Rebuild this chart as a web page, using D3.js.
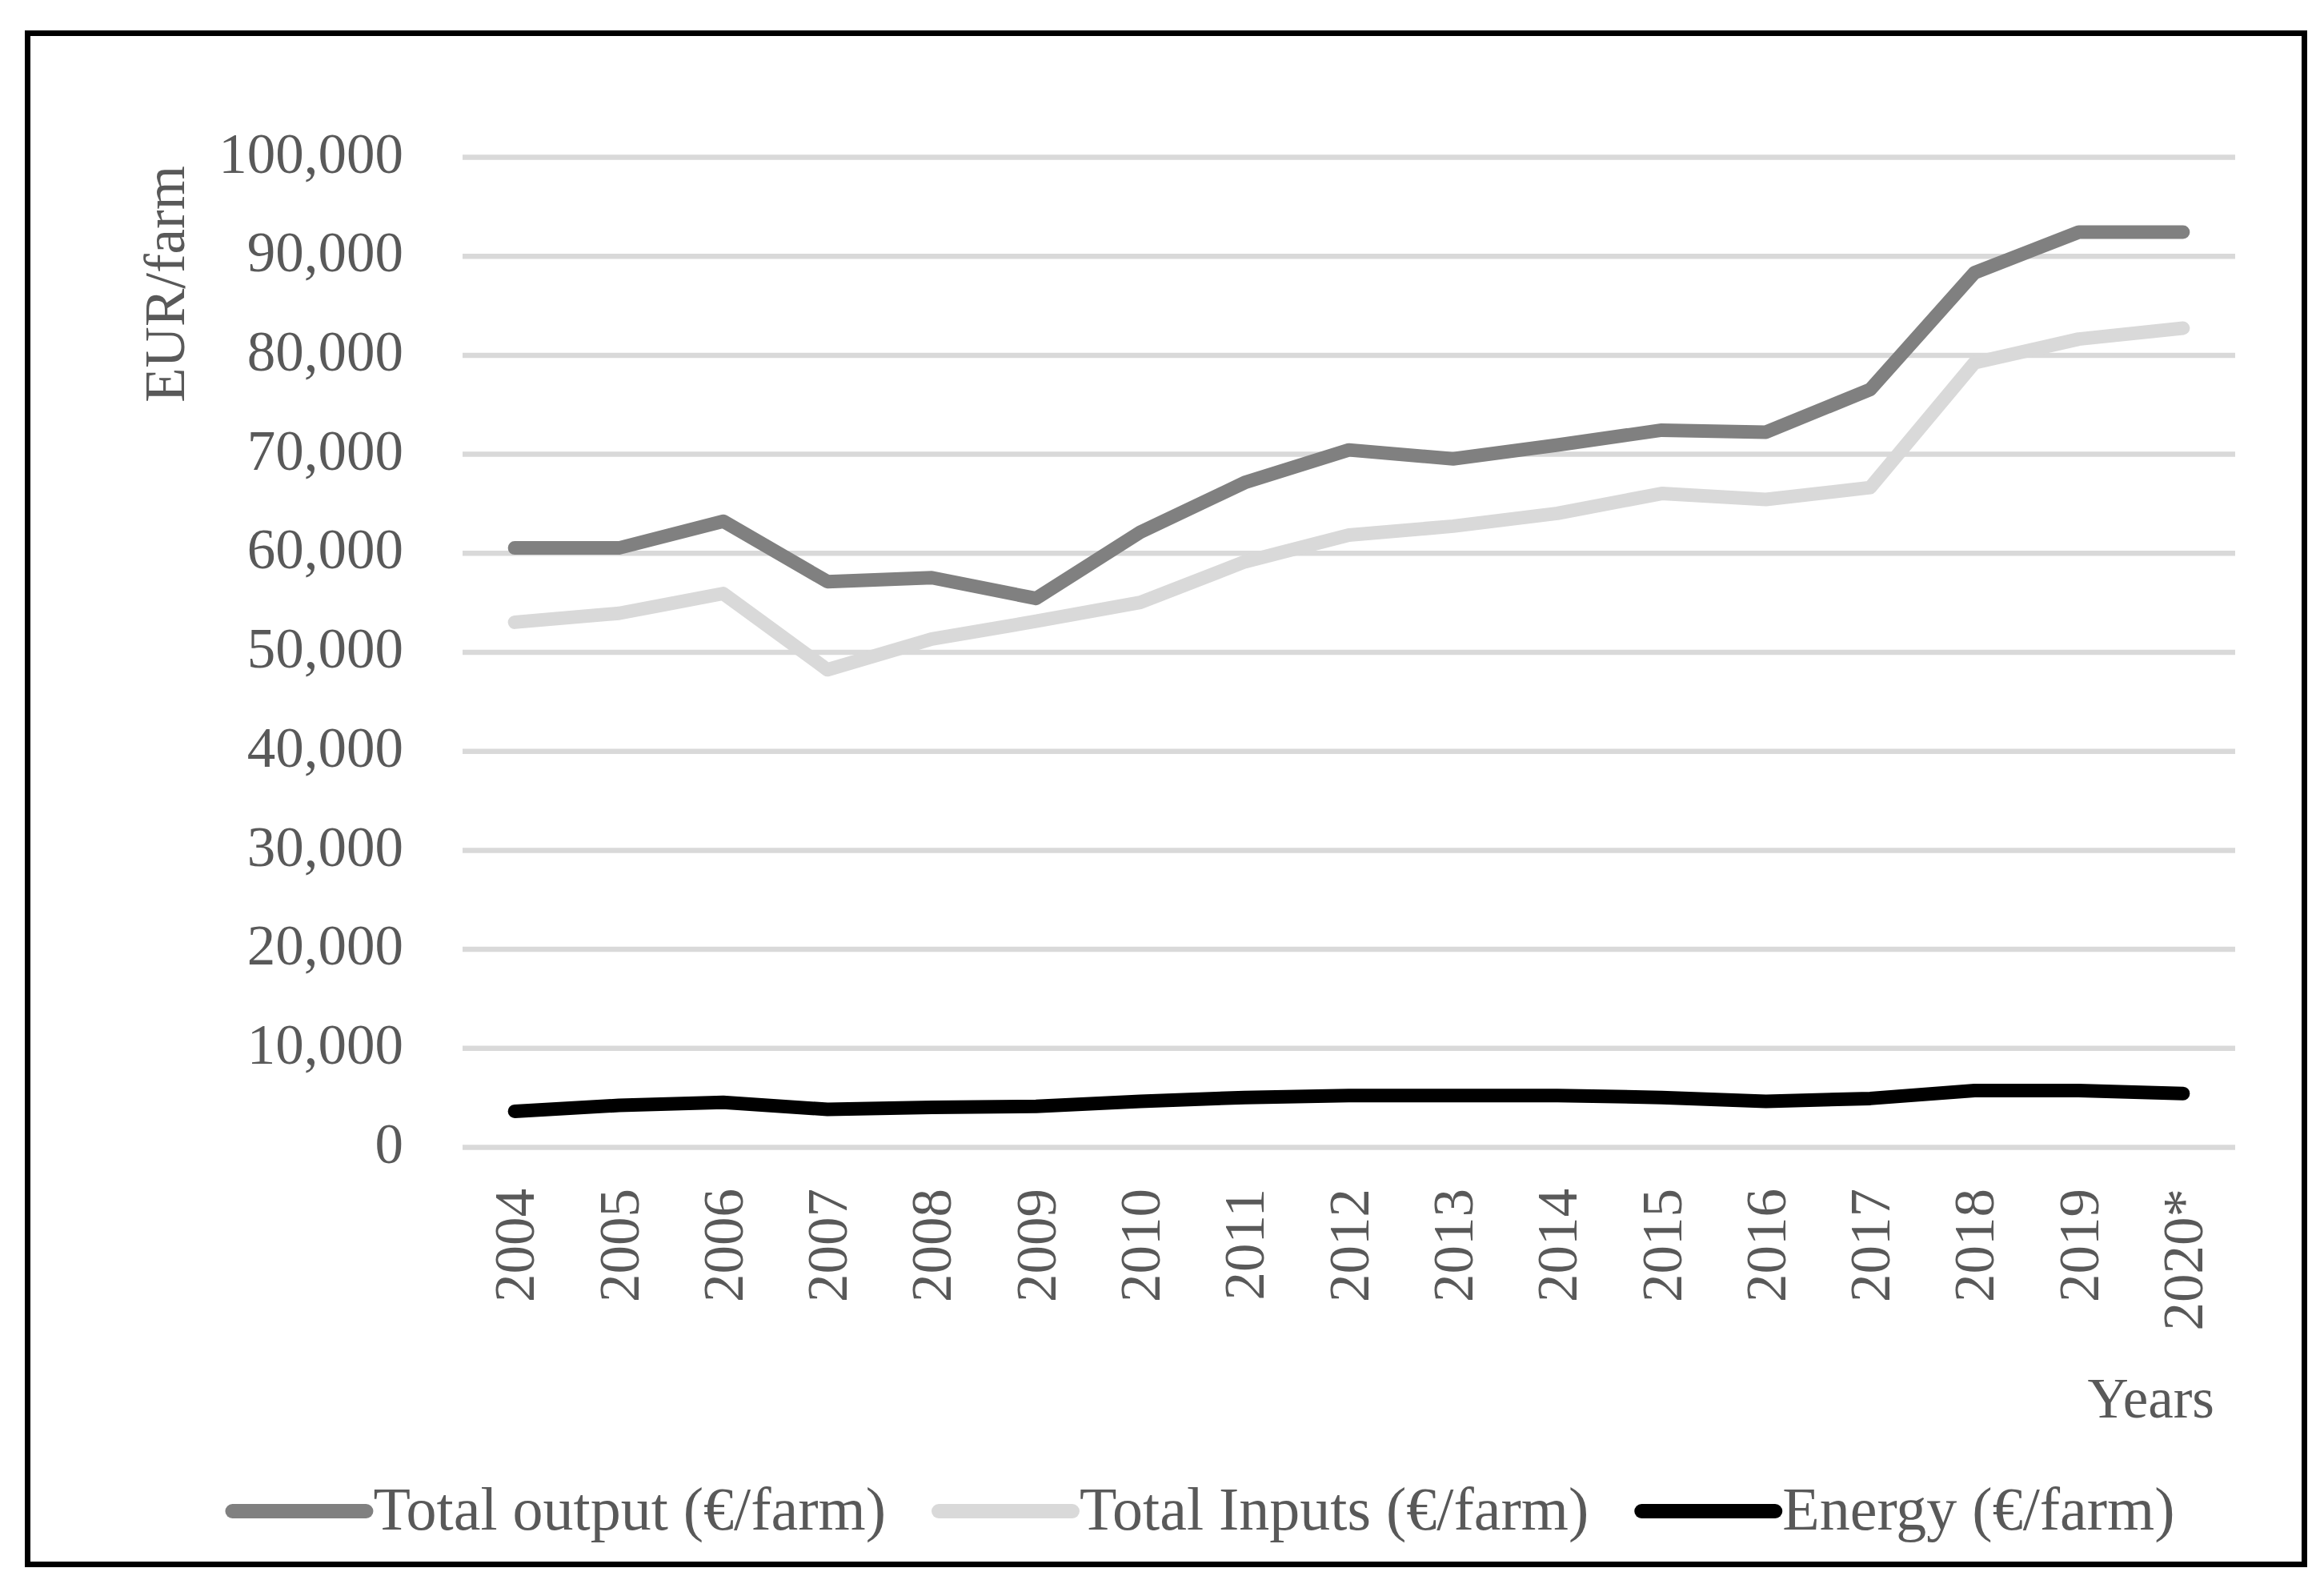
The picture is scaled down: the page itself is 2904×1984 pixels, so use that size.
<!DOCTYPE html>
<html lang="en">
<head>
<meta charset="UTF-8">
<title>EUR/farm by year</title>
<script src="https://cdn.jsdelivr.net/npm/d3@7"></script>
<style>
  html, body { margin: 0; padding: 0; background: #fff; }
  text { font-family: "Liberation Serif", "DejaVu Serif", serif; fill: #595959; }
</style>
</head>
<body>
<script>
// values (EUR per farm)
const years = ["2004", "2005", "2006", "2007", "2008", "2009", "2010", "2011", "2012",
               "2013", "2014", "2015", "2016", "2017", "2018", "2019", "2020*"];
const totalOutput = [60500, 60500, 63200, 57100, 57500, 55400, 62100, 67100, 70400,
                     69500, 70900, 72400, 72200, 76500, 88300, 92400, 92400];
const totalInputs = [53000, 53900, 55900, 48200, 51300, 53100, 55000, 59100, 61800,
                     62700, 64000, 66000, 65400, 66600, 79200, 81600, 82700];
const energy = [3600, 4200, 4500, 3800, 4000, 4100, 4600, 5000, 5200,
                5200, 5200, 5000, 4600, 4900, 5700, 5700, 5400];
const yTicks = [0, 10000, 20000, 30000, 40000, 50000, 60000, 70000, 80000, 90000, 100000];

const series = [
  { name: "Total output (€/farm)", values: totalOutput, color: "#808080" },
  { name: "Total Inputs (€/farm)", values: totalInputs, color: "#d9d9d9" },
  { name: "Energy (€/farm)", values: energy, color: "#000000" }
];

const width = 2904, height = 1984;
const fontSize = 71;
const plot = { left: 578, right: 2793, top: 196, bottom: 1433 };

const svg = d3.select("body").append("svg")
  .attr("width", width)
  .attr("height", height)
  .attr("viewBox", [0, 0, width, height]);

svg.append("rect")
  .attr("x", 34.5).attr("y", 41.5)
  .attr("width", 2845).attr("height", 1913)
  .attr("fill", "#fff")
  .attr("stroke", "#000")
  .attr("stroke-width", 7);

const x = d3.scaleBand().domain(years).range([plot.left, plot.right]);
const y = d3.scaleLinear().domain([0, 100000]).range([plot.bottom, plot.top]);
const cx = d => x(d) + x.bandwidth() / 2;

// y axis with gridlines
const yAxis = svg.append("g")
  .attr("transform", `translate(${plot.left},0)`)
  .call(d3.axisLeft(y)
    .tickValues(yTicks)
    .tickSize(-(plot.right - plot.left))
    .tickPadding(74)
    .tickFormat(d3.format(",")));
yAxis.select(".domain").remove();
yAxis.selectAll(".tick line").attr("stroke", "#d9d9d9").attr("stroke-width", 6.5);
yAxis.selectAll(".tick text")
  .attr("font-size", fontSize)
  .attr("dy", "0.27em")
  .style("font-family", "Liberation Serif")
  .attr("fill", "#595959");

// x axis, labels rotated
const xAxis = svg.append("g")
  .attr("transform", `translate(0,${plot.bottom})`)
  .call(d3.axisBottom(x).tickSize(0).tickPadding(0));
xAxis.select(".domain").remove();
xAxis.selectAll(".tick text")
  .attr("transform", "rotate(-90)")
  .attr("x", -52)
  .attr("y", 0)
  .attr("dy", "0.34em")
  .attr("text-anchor", "end")
  .attr("font-size", fontSize)
  .style("font-family", "Liberation Serif")
  .attr("fill", "#595959");

// lines
const line = d3.line()
  .x((d, i) => cx(years[i]))
  .y(d => y(d));

svg.append("g")
  .selectAll("path")
  .data(series)
  .join("path")
  .attr("d", d => line(d.values))
  .attr("fill", "none")
  .attr("stroke", d => d.color)
  .attr("stroke-width", 17)
  .attr("stroke-linejoin", "round")
  .attr("stroke-linecap", "round");

// axis titles
svg.append("text")
  .attr("transform", "translate(230,207) rotate(-90)")
  .attr("text-anchor", "end")
  .attr("font-size", fontSize)
  .text("EUR/farm");

svg.append("text")
  .attr("x", 2767).attr("y", 1771)
  .attr("text-anchor", "end")
  .attr("font-size", fontSize)
  .text("Years");

// legend
const swatchW = 167, swatchGap = 9, itemGap = 66, legendY = 1888, legendCenter = 1504;
const legend = svg.append("g");
const items = legend.selectAll("g")
  .data(series)
  .join("g");
items.append("line")
  .attr("x1", 0).attr("x2", swatchW)
  .attr("y1", legendY).attr("y2", legendY)
  .attr("stroke", d => d.color)
  .attr("stroke-width", 18)
  .attr("stroke-linecap", "round");
items.append("text")
  .attr("x", swatchW + swatchGap)
  .attr("y", legendY + 23)
  .attr("font-size", 76)
  .text(d => d.name);

let widths = [];
items.each(function () {
  widths.push(swatchW + swatchGap + d3.select(this).select("text").node().getComputedTextLength());
});
const total = d3.sum(widths) + itemGap * (widths.length - 1);
let offset = legendCenter - total / 2;
items.attr("transform", (d, i) => {
  const t = `translate(${offset},0)`;
  offset += widths[i] + itemGap;
  return t;
});
</script>
</body>
</html>
